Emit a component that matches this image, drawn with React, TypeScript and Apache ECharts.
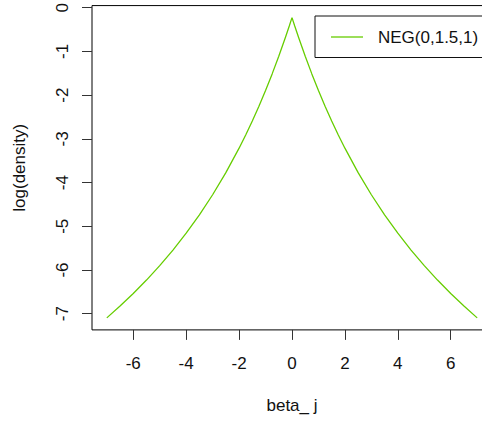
import React, { useEffect, useRef } from "react";
import * as echarts from "echarts";

// beta_j grid and log(density) of NEG(0,1.5,1)
const betaValues = [
  -7, -6.5, -6, -5.5, -5, -4.5, -4, -3.5, -3, -2.5, -2, -1.75, -1.5, -1.25, -1,
  -0.75, -0.5, -0.25, -0.1, 0, 0.1, 0.25, 0.5, 0.75, 1, 1.25, 1.5, 1.75, 2, 2.5,
  3, 3.5, 4, 4.5, 5, 5.5, 6, 6.5, 7,
];
const logDensity = [
  -7.0957, -6.8258, -6.5382, -6.2306, -5.9002, -5.544, -5.1582, -4.7381,
  -4.2785, -3.7728, -3.2133, -2.9105, -2.5905, -2.2521, -1.8937, -1.5137,
  -1.1102, -0.6816, -0.4115, -0.2258, -0.4115, -0.6816, -1.1102, -1.5137,
  -1.8937, -2.2521, -2.5905, -2.9105, -3.2133, -3.7728, -4.2785, -4.7381,
  -5.1582, -5.544, -5.9002, -6.2306, -6.5382, -6.8258, -7.0957,
];
const xTicks = [-6, -4, -2, 0, 2, 4, 6];
const yTicks = [0, -1, -2, -3, -4, -5, -6, -7];
const seriesName = "NEG(0,1.5,1)";
const xTitle = "beta_ j";
const yTitle = "log(density)";

const FONT = "Liberation Sans, Arial, sans-serif";

export default function App() {
  const ref = useRef<HTMLDivElement>(null);
  useEffect(() => {
    if (!ref.current) return;
    const chart = echarts.init(ref.current, undefined, { renderer: "svg" });
    const data = betaValues.map((b, i) => [b, logDensity[i]]);
    chart.setOption({
      animation: false,
      backgroundColor: "#ffffff",
      grid: {
        left: 92,
        top: 5.4,
        width: 400,
        height: 324.5,
        show: true,
        borderColor: "#000",
        borderWidth: 1,
        backgroundColor: "transparent",
      },
      legend: {
        left: 315,
        top: 16,
        padding: [12.5, 80, 12, 16],
        borderColor: "#111",
        borderWidth: 1,
        itemWidth: 32,
        itemHeight: 1.3,
        icon: "rect",
        selectedMode: false,
        textStyle: {
          fontFamily: FONT,
          fontSize: 17,
          color: "#111",
          padding: [0, 0, 0, 10],
        },
        data: [seriesName],
      },
      xAxis: {
        type: "value",
        min: -7.56,
        max: 7.56,
        axisLine: { show: false, onZero: false },
        splitLine: { show: false },
        axisTick: {
          show: true,
          length: 10,
          customValues: xTicks,
          lineStyle: { color: "#333", width: 1 },
        },
        axisLabel: {
          customValues: xTicks,
          margin: 25,
          fontFamily: FONT,
          fontSize: 17,
          color: "#111",
        },
        name: xTitle,
        nameLocation: "middle",
        nameGap: 67,
        nameTextStyle: { fontFamily: FONT, fontSize: 17, color: "#111" },
      },
      yAxis: {
        type: "value",
        min: -7.3705,
        max: 0.049,
        axisLine: { show: false, onZero: false },
        splitLine: { show: false },
        axisTick: {
          show: true,
          length: 10,
          customValues: yTicks,
          lineStyle: { color: "#333", width: 1 },
        },
        axisLabel: {
          customValues: yTicks,
          rotate: 90,
          margin: 21,
          fontFamily: FONT,
          fontSize: 17,
          color: "#111",
        },
        name: yTitle,
        nameLocation: "middle",
        nameGap: 64,
        nameTextStyle: { fontFamily: FONT, fontSize: 17, color: "#111" },
      },
      series: [
        {
          name: seriesName,
          type: "line",
          data,
          symbol: "none",
          showSymbol: false,
          lineStyle: { color: "#66CD00", width: 1.3 },
          itemStyle: { color: "#66CD00" },
        },
      ],
    });
    return () => chart.dispose();
  }, []);
  return (
    <div
      style={{
        position: "absolute",
        left: 0,
        top: 0,
        width: 482,
        height: 422,
        overflow: "hidden",
        background: "#fff",
      }}
    >
      <div ref={ref} style={{ width: 520, height: 422 }} />
    </div>
  );
}
